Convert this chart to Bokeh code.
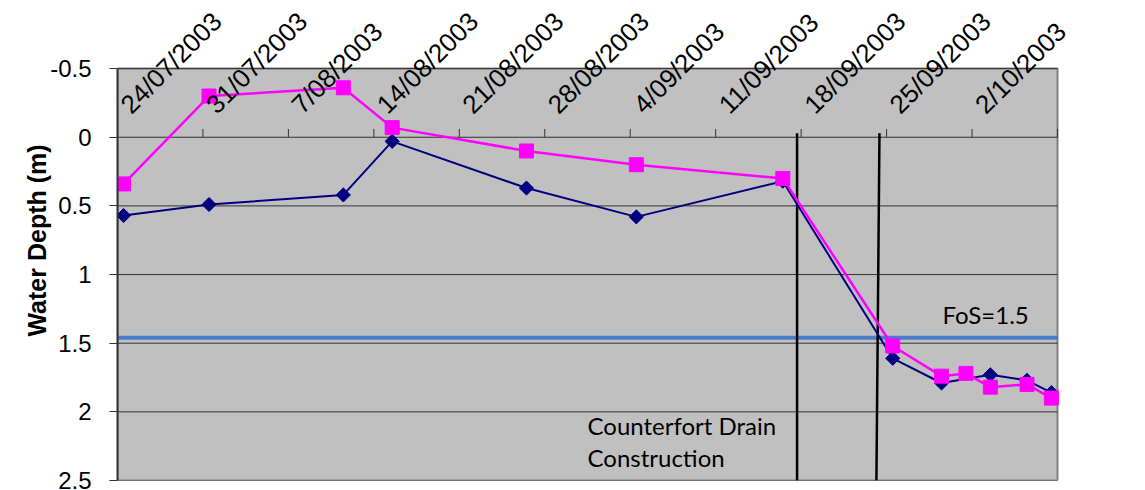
import math
import pandas as pd
from bokeh.plotting import figure
from bokeh.models import Range1d, ColumnDataSource, LabelSet, Label, FixedTicker
from bokeh.core.properties import value
from bokeh.embed import file_html
from bokeh.resources import INLINE

# ---- data ----
navy_dates = ["2003-07-24 12:00", "2003-07-31 12:00", "2003-08-11 12:00", "2003-08-15 12:00",
              "2003-08-26 12:00", "2003-09-04 12:00", "2003-09-16 12:00", "2003-09-25 12:00",
              "2003-09-29 12:00", "2003-10-03 12:00", "2003-10-06 12:00", "2003-10-08 12:00"]
navy_depth = [0.57, 0.49, 0.42, 0.03, 0.37, 0.58, 0.32, 1.61, 1.79, 1.73, 1.77, 1.86]

magenta_dates = ["2003-07-24 12:00", "2003-07-31 12:00", "2003-08-11 12:00", "2003-08-15 12:00",
                 "2003-08-26 12:00", "2003-09-04 12:00", "2003-09-16 12:00", "2003-09-25 12:00",
                 "2003-09-29 12:00", "2003-10-01 12:00", "2003-10-03 12:00", "2003-10-06 12:00",
                 "2003-10-08 12:00"]
magenta_depth = [0.34, -0.30, -0.36, -0.07, 0.10, 0.20, 0.30, 1.52, 1.74, 1.72, 1.82, 1.80, 1.90]

tick_dates = ["2003-07-24", "2003-07-31", "2003-08-07", "2003-08-14", "2003-08-21", "2003-08-28",
              "2003-09-04", "2003-09-11", "2003-09-18", "2003-09-25", "2003-10-02", "2003-10-09"]
tick_labels = ["24/07/2003", "31/07/2003", "7/08/2003", "14/08/2003", "21/08/2003", "28/08/2003",
               "4/09/2003", "11/09/2003", "18/09/2003", "25/09/2003", "2/10/2003"]

y_ticks = [-0.5, 0, 0.5, 1, 1.5, 2, 2.5]
y_tick_labels = ["-0.5", "0", "0.5", "1", "1.5", "2", "2.5"]
y_min, y_max = -0.5, 2.5

fos_depth = 1.46
fos_text = "FoS=1.5"
construction_start = ["2003-09-17 16:00", "2003-09-17 16:00"]   # (top, bottom)
construction_end = ["2003-09-24 10:00", "2003-09-24 04:00"]     # (top, bottom)
construction_text = ["Counterfort Drain", "Construction"]
construction_text_date = "2003-08-31 12:00"
construction_text_depth = [2.10, 2.33]
fos_text_date = "2003-09-29 14:00"
fos_text_depth = 1.29

x_start, x_end = "2003-07-24", "2003-10-09"
# view limits (extra room around the plot area for the slanted date labels)
view_x_end = "2003-10-16 05:00"
view_y_top = -0.996

xs, xe = pd.Timestamp(x_start), pd.Timestamp(x_end)

# ---- figure ----
p = figure(width=1145, height=490, x_axis_type="datetime", x_axis_location=None,
           output_backend="svg", toolbar_location=None,
           x_range=Range1d(xs, pd.Timestamp(view_x_end)),
           y_range=Range1d(y_max, view_y_top),
           min_border_left=117, min_border_right=0, min_border_top=0, min_border_bottom=10)
p.background_fill_color = "white"
p.border_fill_color = "white"
p.outline_line_color = None
p.xgrid.visible = False
p.ygrid.visible = False

# plot area
p.quad(left=[xs], right=[xe], top=[y_min], bottom=[y_max],
       fill_color="#C0C0C0", line_color="#808080", line_width=2)

# horizontal gridlines
p.segment(x0=[xs] * len(y_ticks), y0=y_ticks, x1=[xe] * len(y_ticks), y1=y_ticks,
          line_color="#333333", line_width=1)

ax = p.yaxis[0]
ax.ticker = FixedTicker(ticks=y_ticks)
ax.bounds = (y_min, y_max)
ax.major_label_overrides = {t: l for t, l in zip(y_ticks, y_tick_labels)}
ax.major_label_text_font = "Liberation Sans"
ax.major_label_text_font_size = "24px"
ax.major_label_text_color = "black"
ax.major_label_standoff = 18
ax.major_tick_out = 8
ax.major_tick_in = 0
ax.minor_tick_out = 0
ax.minor_tick_in = 0
ax.major_tick_line_color = "#333333"
ax.axis_line_color = "#333333"
ax.axis_line_width = 2
ax.axis_label = "Water Depth (m)"
ax.axis_label_text_font = "Liberation Sans"
ax.axis_label_text_font_style = "bold"
ax.axis_label_text_font_size = "25px"
ax.axis_label_text_color = "black"
ax.axis_label_standoff = -4

td = pd.to_datetime(tick_dates)

# FoS line
p.line(x=[xs, xe], y=[fos_depth, fos_depth], line_color="#4A7CCB", line_width=4)

# x axis ticks at depth 0 (axis crosses at 0)
p.segment(x0=td, y0=[0] * len(td), x1=td, y1=[-0.06] * len(td),
          line_color="#333333", line_width=1)

# construction lines
p.segment(x0=pd.to_datetime([construction_start[0], construction_end[0]]), y0=[-0.03, -0.03],
          x1=pd.to_datetime([construction_start[1], construction_end[1]]), y1=[y_max, y_max],
          line_color="black", line_width=2.5)

# series
nd = pd.to_datetime(navy_dates)
md = pd.to_datetime(magenta_dates)
p.line(nd, navy_depth, line_color="#000080", line_width=2)
p.scatter(nd, navy_depth, marker="square", size=10, angle=math.pi / 4,
          fill_color="#000080", line_color="#000080")
p.line(md, magenta_depth, line_color="#FF00FF", line_width=2.5)
p.scatter(md, magenta_depth, marker="square", size=14, fill_color="#FF00FF", line_color="#FF00FF")

# rotated date labels
src = ColumnDataSource(dict(x=td[:len(tick_labels)], y=[-0.16] * len(tick_labels), text=tick_labels))
labels = LabelSet(x="x", y="y", text="text", source=src, angle=45, angle_units="deg",
                  x_offset=14, text_align="left", text_baseline="alphabetic",
                  text_font=value("Liberation Sans"), text_font_size="26px", text_color="black")
p.add_layout(labels)

# annotations
p.add_layout(Label(x=pd.Timestamp(fos_text_date), y=fos_text_depth, text=fos_text,
                   text_font="Lato", text_font_size="24px", text_color="black",
                   text_align="left", text_baseline="alphabetic"))
for t, d in zip(construction_text, construction_text_depth):
    p.add_layout(Label(x=pd.Timestamp(construction_text_date), y=d, text=t,
                       text_font="Lato", text_font_size="24px", text_color="black",
                       text_align="left", text_baseline="alphabetic"))

open("out.html", "w").write(file_html(p, INLINE))
